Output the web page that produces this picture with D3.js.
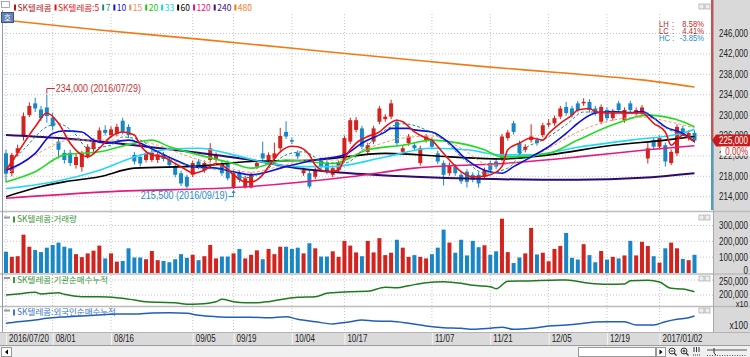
<!DOCTYPE html>
<html><head><meta charset="utf-8">
<script src="https://cdn.jsdelivr.net/npm/d3@7/dist/d3.min.js"></script>
<style>
html,body{margin:0;padding:0;background:#fff;overflow:hidden}
svg{display:block}
.n{font-family:"Liberation Sans",Arial,sans-serif;font-size:10px;fill:#222}
.k{font-family:"Noto Sans CJK KR","Noto Sans",sans-serif;font-size:8.5px}
</style></head><body>
<svg id="chart" width="750" height="357"></svg>
<script>
// ---------------- DATA (prices in thousands of won) ----------------
const tickIdx = [0,8,18,32,39,49,58,73,83,93,103,112];
const tickLabels = ["2016/07/20","08/01","08/16","09/05","09/19","10/04","10/17","11/07","11/21","12/05","12/19","2017/01/02"];
const priceTicks = [214,218,222,226,230,234,238,242,246];
const volTicks = [0,100000,200000,300000];
const instTicks = [200000,250000];

const open = [222.5,218.6,222.6,225.8,230.0,232.3,231.1,231.5,229.5,224.8,
222.6,222.6,220.2,219.8,222.0,223.3,224.8,227.1,226.1,226.3,
228.9,227.7,222.2,221.8,221.2,221.2,221.2,222.3,221.2,219.9,
218.6,217.9,218.3,220.9,219.2,221.2,221.2,220.6,220.6,215.8,
218.6,215.8,215.8,219.9,222.5,221.2,221.5,223.5,226.7,225.1,
222.6,218.6,218.6,217.9,221.2,220.6,218.3,219.2,221.2,224.8,
227.1,227.4,222.8,224.8,228.7,229.2,229.7,228.7,222.8,224.5,
224.1,220.6,225.1,225.1,222.5,220.6,218.6,219.9,218.3,218.9,
218.3,218.3,217.9,220.6,220.9,221.5,225.5,228.4,224.5,223.2,
225.1,225.1,226.1,228.1,228.4,229.7,231.6,231.3,232.3,232.3,
232.6,231.3,228.7,231.0,229.4,232.3,229.0,232.3,230.4,230.4,
221.5,225.1,223.8,224.1,220.6,222.5,227.4,225.5,226.5];
const close = [218.5,222.2,223.5,229.8,231.8,231.3,229.4,229.8,227.8,223.2,
221.2,220.6,221.8,222.6,223.8,224.7,227.0,226.5,227.2,227.7,
226.7,226.1,220.9,220.5,222.5,222.6,222.3,221.4,220.2,218.3,
216.6,216.0,220.6,219.9,220.6,223.5,222.2,218.6,217.6,218.6,
217.3,217.6,218.3,220.6,221.5,222.2,222.5,225.9,225.8,224.8,
221.9,219.2,216.0,219.2,219.9,218.9,219.6,220.6,225.5,229.0,
229.0,223.8,224.1,227.4,231.3,229.7,232.3,224.5,223.5,225.8,
223.5,223.5,225.8,223.8,220.9,218.3,220.2,218.6,217.0,216.9,
217.3,216.6,219.2,219.2,219.9,225.8,226.6,226.7,222.5,223.8,
225.8,224.5,228.0,228.4,229.4,231.3,230.4,230.0,231.0,232.6,
231.0,230.4,231.6,229.4,230.7,231.0,231.0,231.0,231.0,231.5,
223.5,223.8,225.5,220.9,222.8,227.7,226.4,226.5,225.0];
const high = [223.2,222.6,224.2,230.5,232.5,233.4,231.8,234.0,230.5,225.5,
223.2,223.2,222.4,223.0,224.3,225.4,227.6,228.0,227.8,228.3,
229.5,228.2,222.8,222.3,223.0,223.2,222.8,222.8,221.7,220.4,
219.1,218.3,221.1,221.4,221.1,224.5,222.7,221.1,221.1,219.1,
219.1,218.1,218.8,221.1,224.8,222.7,224.6,227.5,228.8,225.6,
223.1,219.7,219.1,219.7,221.7,221.1,220.1,221.1,226.0,229.5,
229.6,227.9,224.6,227.9,231.8,230.2,233.0,229.2,224.0,226.3,
224.6,224.0,226.3,225.6,223.0,221.1,220.7,220.4,218.8,219.4,
218.8,218.8,219.7,221.1,221.4,226.3,227.1,228.9,225.0,224.3,
228.2,225.6,228.5,229.2,229.9,231.8,232.6,231.8,232.8,233.3,
233.1,231.8,232.1,231.5,231.2,232.8,231.5,232.8,231.5,232.0,
224.5,225.6,226.0,224.6,223.3,228.2,227.9,227.0,227.0];
const low = [216.8,218.0,222.0,225.0,229.6,230.6,228.8,228.5,227.0,221.5,
220.5,220.0,219.5,218.9,221.5,222.8,224.5,226.0,225.6,225.8,
226.2,225.5,220.3,219.9,220.7,220.8,220.6,220.9,219.7,217.8,
216.1,215.6,217.8,219.4,218.7,220.8,220.7,218.1,217.2,215.5,
216.8,215.6,215.6,219.4,221.0,220.7,221.0,223.0,225.3,224.3,
221.4,218.1,215.6,217.4,219.4,218.4,217.8,218.7,220.7,224.3,
226.6,223.3,222.3,224.3,228.2,228.7,229.2,224.0,222.3,224.0,
223.0,220.1,224.6,223.3,220.4,216.2,218.1,218.1,216.5,215.8,
216.8,215.8,217.4,218.7,219.4,221.0,225.0,226.2,222.0,222.7,
224.6,224.0,225.6,227.6,227.9,229.2,229.9,229.5,230.5,231.8,
230.5,229.9,228.2,228.9,228.9,230.5,228.5,230.5,229.9,229.9,
220.5,223.3,223.3,219.9,220.2,222.0,225.9,225.0,224.5];
const volume = [134000,102000,106000,242000,166000,145000,132000,160000,177000,192000,
166000,156000,119000,100000,124000,141000,173000,92000,124000,72000,
76000,156000,98000,98000,87000,139000,81000,76000,68000,87000,
119000,96000,115000,81000,106000,177000,92000,104000,104000,124000,
152000,92000,115000,143000,87000,152000,119000,166000,166000,152000,
160000,124000,188000,156000,104000,104000,137000,102000,203000,173000,
130000,106000,203000,130000,220000,113000,128000,210000,160000,102000,
113000,102000,92000,119000,160000,274000,192000,128000,210000,111000,
203000,163000,175000,115000,137000,343000,132000,63000,98000,124000,
285000,117000,128000,74000,152000,171000,253000,96000,85000,182000,
113000,68000,139000,85000,102000,92000,111000,203000,111000,197000,
171000,106000,66000,156000,192000,156000,89000,81000,115000];

// moving averages: [bar index, price (thousand won)]
const ma5 = [[0,219.2],[2,222.6],[5,227.7],[7,230.4],[9,228.4],[11,224.5],[13,222.2],[14,221.8],[16,223.5],[18,225.8],[20,226.7],[22,226.1],[23,224.1],[25,222.2],[27,221.8],[29,220.5],[31,219.2],[32,218.6],[34,219.2],[36,220.5],[37,220.2],[39,218.3],[41,216.9],[42,216.9],[44,218.3],[45,219.9],[47,222.8],[49,223.9],[50,223.8],[52,222.2],[53,220.2],[55,218.9],[57,219.2],[58,221.5],[60,224.5],[62,225.8],[64,226.7],[65,227.7],[67,229.0],[68,228.7],[70,226.7],[72,225.5],[73,225.1],[74,223.8],[76,221.2],[78,218.9],[80,217.9],[81,217.9],[83,218.3],[85,219.9],[86,223.2],[88,224.5],[90,225.5],[92,225.1],[93,226.4],[95,228.4],[97,230.0],[98,231.0],[100,231.3],[101,230.7],[103,230.4],[105,230.4],[108,230.4],[109,230.4],[111,228.4],[113,226.7],[114,224.1],[115,225.1],[116,226.1],[117,225.5],[118,224.8]];
const ma7 = [[0,219.6],[3,223.2],[7,227.7],[9,228.3],[12,226.1],[14,223.5],[18,224.1],[20,225.7],[23,225.1],[26,222.8],[31,220.2],[34,219.6],[38,219.2],[41,217.7],[44,218.8],[48,222.2],[51,222.8],[55,220.6],[58,220.6],[62,224.1],[65,227.1],[68,228.3],[72,227.1],[75,225.1],[79,220.8],[82,218.6],[86,219.6],[89,223.5],[92,225.1],[96,228.1],[99,230.6],[103,230.6],[106,230.4],[110,230.4],[112,228.3],[116,226.1],[118,225.5]];
const ma10 = [[0,219.2],[5,222.5],[8,226.4],[10,226.9],[13,226.7],[15,225.1],[17,224.5],[21,225.1],[23,224.5],[26,222.8],[29,221.2],[32,219.9],[36,219.6],[39,218.9],[42,218.3],[48,219.9],[53,221.2],[58,222.2],[61,224.5],[65,226.7],[66,227.4],[69,227.4],[70,227.1],[73,226.7],[76,224.5],[79,221.2],[82,219.2],[85,218.6],[87,219.9],[90,221.8],[93,223.8],[96,226.4],[98,228.4],[101,230.4],[104,230.7],[107,230.5],[109,230.7],[111,229.4],[113,227.7],[116,226.4],[118,224.8]];
const ma15 = [[0,218.3],[6,222.8],[11,225.1],[16,225.1],[21,225.1],[26,224.1],[32,221.6],[37,220.0],[42,218.8],[47,220.0],[52,221.2],[57,221.2],[62,223.5],[68,225.5],[73,225.9],[78,223.5],[83,220.2],[88,220.8],[93,223.5],[98,226.7],[104,229.0],[109,229.6],[114,228.6],[118,227.5]];
const ma20 = [[0,216.9],[5,218.9],[10,222.2],[16,222.8],[22,224.5],[25,225.1],[28,223.8],[33,222.2],[39,220.5],[42,219.6],[48,221.2],[56,220.5],[62,223.2],[68,224.1],[73,225.1],[76,224.8],[82,223.2],[85,221.8],[87,221.8],[93,222.5],[98,225.1],[104,228.1],[110,230.0],[116,228.7],[118,227.7]];
const ma33 = [[0,215.6],[8,216.9],[16,219.2],[22,221.8],[28,223.3],[33,223.5],[39,222.2],[44,220.8],[50,219.9],[56,219.9],[65,221.8],[73,223.5],[79,223.2],[85,222.2],[90,222.2],[98,223.7],[107,225.1],[116,226.5],[118,227.2]];
const ma60 = [[0,214.0],[5,215.7],[10,216.9],[16,217.9],[22,219.6],[33,220.0],[42,220.9],[53,221.2],[65,222.5],[76,221.8],[85,221.4],[93,222.2],[104,224.1],[113,225.1],[118,225.8]];
const ma120 = [[0,213.7],[16,214.9],[42,216.0],[59,217.9],[70,219.6],[85,220.5],[98,221.8],[110,223.2],[118,224.0]];
const ma240 = [[0,226.1],[9,225.5],[22,224.1],[33,222.6],[42,221.2],[50,219.6],[59,218.6],[70,217.9],[81,217.5],[98,217.3],[109,217.7],[118,218.6]];
const ma480 = [[0,248.6],[16,246.7],[33,244.9],[50,243.0],[68,241.0],[81,239.6],[95,238.3],[109,236.9],[118,235.5]];

// institution / foreign cumulative net buying: [bar index, value]
const instNet = [[0,200000],[2,203300],[5,209000],[6,203300],[9,207700],[10,202300],[13,194300],[16,194300],[19,191000],[22,183300],[24,177700],[26,175700],[29,174300],[31,169000],[33,170000],[36,177700],[37,185700],[39,177700],[41,174300],[43,174300],[45,177700],[48,187700],[50,192300],[53,194300],[55,205700],[56,207700],[59,211000],[62,212300],[65,225700],[67,224300],[69,231000],[72,241000],[75,244300],[78,239000],[80,232300],[83,227700],[84,221000],[86,245700],[89,246700],[95,250000],[96,250000],[100,239000],[103,235700],[106,236700],[107,247700],[110,249000],[112,243300],[114,222300],[116,220000],[118,211000]];
const frgnNet = [[0,8700],[2,10300],[5,12000],[7,13700],[9,14700],[10,15000],[13,16000],[16,17000],[19,18000],[22,18000],[25,19000],[28,19300],[31,18700],[33,16700],[36,15300],[39,14700],[42,14700],[45,14300],[48,15300],[50,12700],[53,10300],[56,8000],[57,8700],[59,10300],[61,12000],[63,11000],[66,10700],[69,8700],[72,6000],[75,4300],[78,3700],[80,2700],[83,3700],[85,4700],[87,2700],[90,3700],[93,6000],[96,7000],[99,8700],[101,10000],[103,10300],[106,10300],[108,7000],[111,7000],[113,10300],[115,12700],[117,14300],[118,16000]];

const legendLabels = ["SK텔레콤","SK텔레콤:5","7","10","15","20","33","60","120","240","480"];
const extremeDates = ["2016/07/29","2016/09/19"];
const statLabels = ["LH","LC","HC"];
const statValues = ["8.58%","4.41%","-3.85%"];

// ---------------- STYLES ----------------
const UP="#d2231e", DOWN="#1987c6";
const maStyle = [
  {d:ma480,c:"#f07a14",w:1.6},{d:ma240,c:"#2c0a6e",w:2},{d:ma120,c:"#e8197e",w:1.6},
  {d:ma60,c:"#000000",w:1.6},{d:ma33,c:"#22d8f8",w:1.6},{d:ma20,c:"#22dc22",w:1.6},
  {d:ma15,c:"#f59a6a",w:1,dash:"3,2"},{d:ma10,c:"#1010dc",w:1.6},{d:ma7,c:"#1e8c82",w:1,dash:"3,2"},
  {d:ma5,c:"#ee1010",w:1.6}];
const legendColors=["#b01818","#e61414","#1e8c82","#1414d2","#f08c5a","#14c814","#14d2f0","#000","#e6147a","#3c1478","#f07814"];

// ---------------- LAYOUT ----------------
const svg=d3.select("#chart");
const L=4, R=713, AX=748;
const PR=[14,211], FR=[307,332];
const x=d3.scaleLinear().domain([0,118]).range([6,694.5]);
const yP=d3.scaleLinear().domain([214,246]).range([196.7,33.5]);
const yV=d3.scaleLinear().domain([0,300000]).range([273,225.5]);
const yI=d3.scaleLinear().domain([200000,250000]).range([295,280]);
const yF=d3.scaleLinear().domain([0,25000]).range([332,307]);
const fmt=d3.format(",");
// condensed number text: a text horizontally scaled inside a positioned group
function ntext(x0,y0,str,f,anchor,size,color){
  const gg=svg.append("g").attr("transform",`translate(${x0},${y0}) scale(${f},1)`);
  return gg.append("text").attr("class","n").attr("dy","0.35em").attr("text-anchor",anchor||"start")
    .style("font-size",(size||10)+"px").style("fill",color||"#222").text(str);
}

svg.append("rect").attr("width",750).attr("height",357).attr("fill","#fff");
svg.append("rect").attr("x",714).attr("y",0).attr("width",36).attr("height",345).attr("fill","#d9d9d9");

const defs=svg.append("defs");
defs.append("clipPath").attr("id","cp").append("rect").attr("x",L).attr("y",PR[0]).attr("width",R-L).attr("height",PR[1]-PR[0]);

// grid
const g=svg.append("g");
g.selectAll(".hg").data(priceTicks).join("line").attr("x1",L).attr("x2",R).attr("y1",d=>yP(d)).attr("y2",d=>yP(d))
 .attr("stroke","#c4c4c4").attr("stroke-dasharray","1,2");
g.selectAll(".vg").data(volTicks.slice(1)).join("line").attr("x1",L).attr("x2",R).attr("y1",d=>yV(d)).attr("y2",d=>yV(d))
 .attr("stroke","#c4c4c4").attr("stroke-dasharray","1,2");
g.selectAll(".ig").data(instTicks).join("line").attr("x1",L).attr("x2",R).attr("y1",d=>yI(d)).attr("y2",d=>yI(d))
 .attr("stroke","#c4c4c4").attr("stroke-dasharray","1,2");
g.selectAll(".xg").data(tickIdx).join("line").attr("x1",d=>x(d)).attr("x2",d=>x(d)).attr("y1",PR[0]).attr("y2",FR[1])
 .attr("stroke","#c4c4c4").attr("stroke-dasharray","1,2");

// separators
[211.5,274,306.5].forEach(yy=>svg.append("line").attr("x1",0).attr("x2",750).attr("y1",yy).attr("y2",yy).attr("stroke","#bcbcbc").attr("stroke-width",1.5));
svg.append("line").attr("x1",713.5).attr("x2",713.5).attr("y1",0).attr("y2",332).attr("stroke","#a8a8a8");
svg.append("line").attr("x1",2.5).attr("x2",2.5).attr("y1",10).attr("y2",345).attr("stroke","#8c9ab4");

// candles
const cg=svg.append("g").attr("clip-path","url(#cp)");
const idx=d3.range(open.length);
cg.selectAll(".wick").data(idx).join("line").attr("x1",i=>x(i)).attr("x2",i=>x(i))
 .attr("y1",i=>yP(high[i])).attr("y2",i=>yP(low[i])).attr("stroke",i=>close[i]>=open[i]?UP:DOWN);
cg.selectAll(".body").data(idx).join("rect").attr("x",i=>x(i)-2).attr("width",4)
 .attr("y",i=>yP(Math.max(open[i],close[i]))).attr("height",i=>Math.max(1,Math.abs(yP(open[i])-yP(close[i]))))
 .attr("fill",i=>close[i]>=open[i]?UP:DOWN);

// moving averages
const line=d3.line().x(d=>x(d[0])).y(d=>yP(d[1])).curve(d3.curveMonotoneX);
maStyle.forEach(s=>cg.append("path").attr("d",line(s.d)).attr("fill","none").attr("stroke",s.c).attr("stroke-width",s.w).attr("stroke-dasharray",s.dash||null));

// high / low annotations
const hi=d3.maxIndex(high), lo=d3.minIndex(low);
svg.append("path").attr("d",`M${x(hi)},${yP(high[hi])-1}V88.5H${x(hi)+8}`).attr("fill","none").attr("stroke","#c83232");
ntext(x(hi)+9,88.5,`${fmt(high[hi]*1000)} (${extremeDates[0]})`,0.89,"start",10,"#c83232");
ntext(x(lo)-6,195.5,`${fmt(low[lo]*1000)} (${extremeDates[1]})`,0.91,"end",10,"#2a8cc8");
svg.append("path").attr("d",`M${x(lo)-5},196.5H${x(lo)}V${yP(low[lo])+1.5}`).attr("fill","none").attr("stroke","#2a8cc8");
svg.append("path").attr("d",`M${x(lo)-2},${yP(low[lo])+4}L${x(lo)},${yP(low[lo])+1}L${x(lo)+2},${yP(low[lo])+4}Z`).attr("fill","#2a8cc8");

// price axis labels
const last=close[close.length-1], yc=yP(last);
priceTicks.forEach(t=>ntext(AX,yP(t),fmt(t*1000),0.8,"end"));

// current price marker
svg.append("line").attr("x1",712).attr("x2",712).attr("y1",0).attr("y2",yc).attr("stroke","#d01e1e").attr("stroke-width",1.6);
svg.append("line").attr("x1",712).attr("x2",712).attr("y1",yc).attr("y2",210).attr("stroke","#1987c6").attr("stroke-width",1.6);
svg.append("path").attr("d",`M712,${yc}L716,${yc-6}H750V${yc+6}H716Z`).attr("fill","#c81c1c");
ntext(AX,yc,fmt(last*1000),0.8,"end",10,"#fff");
svg.append("rect").attr("x",721).attr("y",yc+6).attr("width",29).attr("height",9).attr("fill","#fff");
ntext(AX,yc+10.5,((last-close[close.length-1])/last*100).toFixed(2)+"%",0.8,"end",10,"#d01e1e");

// LH / LC / HC  (one text per column, rows as tspans)
const statCol=["#c82828","#c82828","#2a8cc8"];
function statColumn(x0,f,anchor,vals){
  const gg=svg.append("g").attr("transform",`translate(${x0},24) scale(${f},1)`);
  const t=gg.append("text").attr("class","n").attr("text-anchor",anchor).style("font-size","8.5px");
  vals.forEach((v,i)=>t.append("tspan").attr("x",0).attr("y",i*7).attr("dy","0.35em").style("fill",statCol[i]).text(v));
}
statColumn(659,0.9,"start",statLabels);
statColumn(672,0.9,"start",statLabels.map(()=>":"));
statColumn(704,0.9,"end",statValues);

// volume
svg.append("g").selectAll("rect").data(idx).join("rect").attr("x",i=>x(i)-2).attr("width",4)
 .attr("y",i=>yV(volume[i])).attr("height",i=>yV(0)-yV(volume[i])).attr("fill",i=>close[i]>=open[i]?UP:DOWN);
volTicks.forEach(t=>ntext(AX,t===0?yV(t)-3:yV(t),fmt(t),0.8,"end"));

// institution
svg.append("path").attr("d",d3.line().x(d=>x(d[0])).y(d=>yI(d[1])).curve(d3.curveMonotoneX)(instNet)).attr("fill","none").attr("stroke","#1e7a1e").attr("stroke-width",1.5);
instTicks.forEach(t=>ntext(AX,yI(t)+(t===250000?1.2:-1),fmt(t),0.8,"end"));
ntext(AX,303.8,"x10",0.85,"end",9);

// foreign
svg.append("path").attr("d",d3.line().x(d=>x(d[0])).y(d=>yF(d[1])).curve(d3.curveMonotoneX)(frgnNet)).attr("fill","none").attr("stroke","#2060b4").attr("stroke-width",1.5);
ntext(AX,325.5,"x100",0.85,"end",10);

// panel titles
function title(y,txt,col){
  svg.append("rect").attr("x",4).attr("y",y-3).attr("width",6).attr("height",2).attr("fill","#9a9a9a");
  svg.append("rect").attr("x",13).attr("y",y-3).attr("width",2).attr("height",6).attr("fill",col);
  svg.append("text").attr("class","k").attr("x",17).attr("y",y).attr("dy","0.35em").style("fill",col).text(txt);
}
title(219.5,"SK텔레콤:거래량","#3c963c");
title(280,"SK텔레콤:기관순매수누적","#3c963c");
title(312.5,"SK텔레콤:외국인순매수누적","#3a78c8");

// small panel buttons
[4,215,276,308].forEach(yy=>{
  [699,705].forEach(xx=>svg.append("rect").attr("x",xx).attr("y",yy).attr("width",5).attr("height",5).attr("fill","#eee").attr("stroke","#999").attr("stroke-width",0.6));
});

// legend
let lx=14;
legendLabels.forEach((t,i)=>{
  svg.append("rect").attr("x",lx).attr("y",4.5).attr("width",2).attr("height",6).attr("fill",legendColors[i]);
  const tx=svg.append("text").attr("class","k").attr("x",lx+3.5).attr("y",8).attr("dy","0.35em").style("fill",legendColors[i]).text(t);
  lx+=3.5+tx.node().getComputedTextLength()+3;
});
svg.append("rect").attr("x",1.5).attr("y",1.5).attr("width",8).attr("height",6).attr("fill","#fff").attr("stroke","#888").attr("stroke-width",0.7);
svg.append("rect").attr("x",1.5).attr("y",12.5).attr("width",12).attr("height",10).attr("fill","#6684b8").attr("stroke","#3c5488");
svg.append("text").attr("class","k").attr("x",7.5).attr("y",18).attr("dy","0.35em").attr("text-anchor","middle").style("fill","#fff").style("font-size","7.5px").text("호");

// x axis band
svg.append("rect").attr("x",0).attr("y",332).attr("width",750).attr("height",13).attr("fill","#dadada");
svg.append("line").attr("x1",0).attr("x2",750).attr("y1",332.5).attr("y2",332.5).attr("stroke","#b4b4b4");
svg.selectAll(".xs").data(tickIdx).join("line").attr("x1",d=>x(d)+0.5).attr("x2",d=>x(d)+0.5).attr("y1",333).attr("y2",345).attr("stroke","#f4f4f4");
tickIdx.forEach((d,i)=>ntext(x(d)+3,338.5,tickLabels[i],0.8,"start"));

// scroll bar
svg.append("rect").attr("x",0).attr("y",345).attr("width",750).attr("height",12).attr("fill","#f0f0f0");
svg.append("line").attr("x1",0).attr("x2",750).attr("y1",345.5).attr("y2",345.5).attr("stroke","#9c9c9c");
svg.append("rect").attr("x",1.5).attr("y",347.5).attr("width",10).attr("height",9).attr("fill","#fff").attr("stroke","#999");
svg.append("path").attr("d","M5,352L8,349.5V354.5Z").attr("fill","#000");
svg.append("rect").attr("x",578.5).attr("y",347.5).attr("width",77).attr("height",9).attr("fill","#fff").attr("stroke","#999");
svg.append("rect").attr("x",656.5).attr("y",347.5).attr("width",9).attr("height",9).attr("fill","#fff").attr("stroke","#999");
svg.append("path").attr("d","M659.5,349.5L662.5,352L659.5,354.5Z").attr("fill","#000");
[672,684].forEach((cx,k)=>{
  svg.append("circle").attr("cx",cx).attr("cy",351).attr("r",3).attr("fill","none").attr("stroke","#333");
  svg.append("line").attr("x1",cx+2).attr("y1",353).attr("x2",cx+4.5).attr("y2",355.5).attr("stroke","#333").attr("stroke-width",1.3);
  svg.append("line").attr("x1",cx-1.5).attr("x2",cx+1.5).attr("y1",351).attr("y2",351).attr("stroke","#333");
  if(k===1) svg.append("line").attr("x1",cx).attr("x2",cx).attr("y1",349.5).attr("y2",352.5).attr("stroke","#333");
});
[694,696.5,699].forEach(xx=>svg.append("line").attr("x1",xx).attr("x2",xx).attr("y1",347).attr("y2",352).attr("stroke","#333"));
svg.append("line").attr("x1",693).attr("x2",700).attr("y1",355).attr("y2",355).attr("stroke","#333").attr("stroke-dasharray","1,1");
svg.append("line").attr("x1",707).attr("x2",747).attr("y1",350).attr("y2",350).attr("stroke","#555");
svg.append("line").attr("x1",707).attr("x2",747).attr("y1",355.5).attr("y2",355.5).attr("stroke","#555").attr("stroke-dasharray","1,1.5");
svg.append("path").attr("d","M714,348V353L716,355").attr("fill","none").attr("stroke","#333");
</script></body></html>
